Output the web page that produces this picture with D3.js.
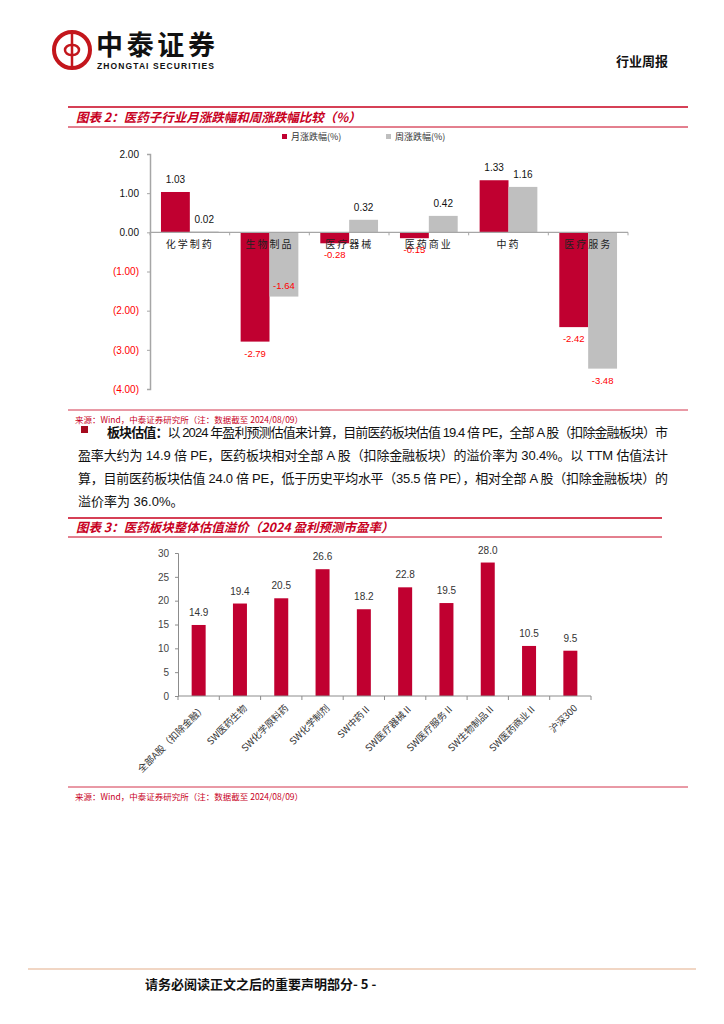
<!DOCTYPE html>
<html>
<head>
<meta charset="utf-8">
<script src="https://cdn.jsdelivr.net/npm/d3@7"></script>
<style>
  body { margin: 0; background: #fff; }
  text { font-family: "Liberation Sans", "Noto Sans CJK SC", sans-serif; }
  .cjk { font-family: "Noto Sans CJK SC", sans-serif; }
</style>
</head>
<body>
<div id="page"></div>
<script>
// chart 2: monthly / weekly change by sub-industry
var industries = ["化学制药", "生物制品", "医疗器械", "医药商业", "中药", "医疗服务"];
var seriesNames = ["月涨跌幅(%)", "周涨跌幅(%)"];
var monthChg = [1.03, -2.79, -0.28, -0.15, 1.33, -2.42];
var weekChg = [0.02, -1.64, 0.32, 0.42, 1.16, -3.48];
var yTicks1 = [2, 1, 0, -1, -2, -3, -4];

// chart 3: valuation (2024 PE)
var sectors = ["全部A股（扣除金融）", "SW医药生物", "SW化学原料药", "SW化学制剂", "SW中药Ⅱ",
  "SW医疗器械Ⅱ", "SW医疗服务Ⅱ", "SW生物制品Ⅱ", "SW医药商业Ⅱ", "沪深300"];
var peValues = [14.9, 19.4, 20.5, 26.6, 18.2, 22.8, 19.5, 28.0, 10.5, 9.5];
var yTicks3 = [0, 5, 10, 15, 20, 25, 30];

var RED = "#c00030";
var GRAY = "#bfbfbf";
var TITLE_RED = "#c8001e";

var svg = d3.select("#page").append("svg")
  .attr("width", 724)
  .attr("height", 1024);

// ---------- header ----------
var logo = svg.append("g").attr("transform", "translate(72,50)");
logo.append("circle").attr("r", 18).attr("fill", "none").attr("stroke", "#c3161c").attr("stroke-width", 4);
logo.append("line").attr("x1", 0).attr("x2", 0).attr("y1", -18).attr("y2", 18)
  .attr("stroke", "#c3161c").attr("stroke-width", 2.5);
logo.append("path").attr("d", "M -1,-5 A 6 5 0 1 0 -1,5").attr("fill", "none")
  .attr("stroke", "#c3161c").attr("stroke-width", 2.5);
logo.append("path").attr("d", "M 1,-5 A 6 5 0 1 1 1,5").attr("fill", "none")
  .attr("stroke", "#c3161c").attr("stroke-width", 2.5);

svg.append("text").attr("class", "cjk").attr("x", 96).attr("y", 55)
  .attr("font-size", 27).attr("font-weight", "bold").attr("fill", "#111")
  .attr("textLength", 119).text("中泰证券");
svg.append("text").attr("x", 97).attr("y", 69)
  .attr("font-size", 8.5).attr("font-weight", "bold").attr("fill", "#111")
  .attr("textLength", 117).text("ZHONGTAI SECURITIES");
svg.append("text").attr("class", "cjk").attr("x", 668).attr("y", 66)
  .attr("text-anchor", "end").attr("font-size", 13).attr("font-weight", "bold")
  .attr("fill", "#111").text("行业周报");

// ---------- chart 2 ----------
function titleBlock(yTop, yBot, xEnd, label) {
  svg.append("line").attr("x1", 68).attr("x2", xEnd).attr("y1", yTop).attr("y2", yTop)
    .attr("stroke", TITLE_RED).attr("stroke-width", 1.3);
  svg.append("line").attr("x1", 68).attr("x2", xEnd).attr("y1", yBot).attr("y2", yBot)
    .attr("stroke", TITLE_RED).attr("stroke-width", 1);
  svg.append("text").attr("class", "cjk").attr("x", 76).attr("y", (yTop + yBot) / 2 + 4.5)
    .attr("font-size", 12.5).attr("font-weight", "bold").attr("font-style", "italic")
    .attr("fill", TITLE_RED).text(label);
}
function sourceBlock(y, xEnd) {
  svg.append("line").attr("x1", 68).attr("x2", xEnd).attr("y1", y).attr("y2", y)
    .attr("stroke", TITLE_RED).attr("stroke-width", 0.8);
  svg.append("text").attr("class", "cjk").attr("x", 75).attr("y", y + 13)
    .attr("font-size", 8.5).attr("fill", TITLE_RED)
    .text("来源：Wind，中泰证券研究所（注：数据截至 2024/08/09）");
}

titleBlock(107, 127, 688, "图表 2：医药子行业月涨跌幅和周涨跌幅比较（%）");

var x0 = d3.scaleBand().domain(industries).range([150, 628]);
var x1 = d3.scaleBand().domain(seriesNames).range([0, x0.bandwidth()]).paddingOuter(0.38);
var y1 = d3.scaleLinear().domain([-4, 2]).range([389, 154]);

var rows = industries.map(function(d, i) {
  return { name: d, values: [
    { key: seriesNames[0], v: monthChg[i], color: RED },
    { key: seriesNames[1], v: weekChg[i], color: GRAY }
  ]};
});

var c1 = svg.append("g");

var grp = c1.selectAll("g.cat").data(rows).enter().append("g")
  .attr("class", "cat")
  .attr("transform", d => `translate(${x0(d.name)},0)`);

grp.selectAll("rect").data(d => d.values).enter().append("rect")
  .attr("x", d => x1(d.key))
  .attr("width", x1.bandwidth())
  .attr("y", d => y1(Math.max(0, d.v)))
  .attr("height", d => Math.abs(y1(d.v) - y1(0)))
  .attr("fill", d => d.color);

// zero line and category ticks
c1.append("line").attr("x1", 150).attr("x2", 628).attr("y1", y1(0)).attr("y2", y1(0))
  .attr("stroke", "#a6a6a6").attr("stroke-width", 1.2);
c1.selectAll("line.ct").data(d3.range(industries.length + 1)).enter().append("line")
  .attr("class", "ct")
  .attr("x1", i => 150 + i * x0.step()).attr("x2", i => 150 + i * x0.step())
  .attr("y1", y1(0)).attr("y2", y1(0) + 3)
  .attr("stroke", "#a6a6a6");
c1.selectAll("text.cat").data(industries).enter().append("text")
  .attr("class", "cjk")
  .attr("x", d => x0(d) + x0.bandwidth() / 2)
  .attr("y", y1(0) + 16)
  .attr("text-anchor", "middle")
  .attr("font-size", 10)
  .attr("letter-spacing", 2)
  .attr("fill", "#222")
  .text(d => d);

// value labels
grp.selectAll("text.val").data(d => d.values).enter().append("text")
  .attr("class", "val")
  .attr("x", d => x1(d.key) + x1.bandwidth() / 2)
  .attr("y", function(d) {
    if (d.v >= 0) return y1(d.v) - 9;
    if (d.v === -1.64) return y1(d.v) - 8;   // sits inside the bar in the original
    return y1(d.v) + 15;
  })
  .attr("text-anchor", "middle")
  .attr("font-size", d => d.v >= 0 ? 10 : 9.5)
  .attr("fill", d => d.v >= 0 ? "#111" : "#ff0000")
  .text(d => d.v.toFixed(2));

// y axis
var yAxis1 = d3.axisLeft(y1).tickValues(yTicks1).tickSize(3).tickPadding(8)
  .tickFormat(d => d < 0 ? "(" + Math.abs(d).toFixed(2) + ")" : d.toFixed(2));
var ya = c1.append("g").attr("transform", "translate(150,0)").call(yAxis1);
ya.select(".domain").attr("stroke", "#a6a6a6").attr("stroke-width", 1.5);
ya.selectAll(".tick line").attr("stroke", "#a6a6a6");
ya.selectAll(".tick text").attr("font-size", 10)
  .attr("font-family", "Liberation Sans")
  .attr("fill", d => d < 0 ? "#ff0000" : "#111");

// legend
var lg = c1.selectAll("g.lg").data(seriesNames).enter().append("g")
  .attr("class", "lg")
  .attr("transform", (d, i) => `translate(${282 + i * 104},133)`);
lg.append("rect").attr("width", 5).attr("height", 5).attr("y", 1)
  .attr("fill", (d, i) => i === 0 ? RED : GRAY);
lg.append("text").attr("class", "cjk").attr("x", 9).attr("y", 7)
  .attr("font-size", 9).attr("fill", "#333").text(d => d);

sourceBlock(410, 688);

// ---------- paragraph ----------
svg.append("rect").attr("x", 81).attr("y", 426).attr("width", 7).attr("height", 7).attr("fill", "#a50a1e");
var para = [
  { x: 107, len: 561, parts: [["板块估值：", "bold"], ["以 2024 年盈利预测估值来计算，目前医药板块估值 19.4 倍 PE，全部 A 股（扣除金融板块）市", "normal"]] },
  { x: 78, len: 590, parts: [["盈率大约为 14.9 倍 PE，医药板块相对全部 A 股（扣除金融板块）的溢价率为 30.4%。以 TTM 估值法计", "normal"]] },
  { x: 78, len: 590, parts: [["算，目前医药板块估值 24.0 倍 PE，低于历史平均水平（35.5 倍 PE），相对全部 A 股（扣除金融板块）的", "normal"]] },
  { x: 78, len: 0, parts: [["溢价率为 36.0%。", "normal"]] }
];
para.forEach(function(p, i) {
  var t = svg.append("text").attr("x", p.x).attr("y", 437 + i * 23)
    .attr("font-size", 13).attr("fill", "#111");
  if (p.len) t.attr("textLength", p.len).attr("lengthAdjust", "spacing");
  p.parts.forEach(function(s) {
    t.append("tspan").attr("font-weight", s[1]).text(s[0]);
  });
});

// ---------- chart 3 ----------
titleBlock(518, 537, 662, "图表 3：医药板块整体估值溢价（2024 盈利预测市盈率）");

var x3 = d3.scaleBand().domain(sectors).range([178, 591]);
var y3 = d3.scaleLinear().domain([0, 30]).range([696, 553]);
var c3 = svg.append("g");

c3.selectAll("rect").data(peValues).enter().append("rect")
  .attr("x", (d, i) => x3(sectors[i]) + x3.bandwidth() / 2 - 7)
  .attr("width", 14)
  .attr("y", d => y3(d))
  .attr("height", d => y3(0) - y3(d))
  .attr("fill", RED);

c3.selectAll("text.val").data(peValues).enter().append("text")
  .attr("class", "val")
  .attr("x", (d, i) => x3(sectors[i]) + x3.bandwidth() / 2)
  .attr("y", d => y3(d) - 9)
  .attr("text-anchor", "middle")
  .attr("font-size", 10)
  .attr("fill", "#333")
  .text(d => d.toFixed(1));

var yAxis3 = d3.axisLeft(y3).tickValues(yTicks3).tickSize(3).tickPadding(6);
var ya3 = c3.append("g").attr("transform", "translate(178,0)").call(yAxis3);
ya3.select(".domain").attr("stroke", "#8c8c8c");
ya3.selectAll(".tick line").attr("stroke", "#8c8c8c");
ya3.selectAll(".tick text").attr("font-size", 10).attr("font-family", "Liberation Sans").attr("fill", "#444");

c3.append("line").attr("x1", 178).attr("x2", 591).attr("y1", y3(0)).attr("y2", y3(0))
  .attr("stroke", "#8c8c8c");
c3.selectAll("line.ct").data(d3.range(sectors.length + 1)).enter().append("line")
  .attr("class", "ct")
  .attr("x1", i => 178 + i * x3.step()).attr("x2", i => 178 + i * x3.step())
  .attr("y1", y3(0)).attr("y2", y3(0) + 4)
  .attr("stroke", "#8c8c8c");
c3.selectAll("text.cat").data(sectors).enter().append("text")
  .attr("class", "cjk")
  .attr("transform", d => `translate(${x3(d) + x3.bandwidth() / 2 + 3},${y3(0) + 8}) rotate(-45)`)
  .attr("text-anchor", "end")
  .attr("dy", "0.7em")
  .attr("font-size", 9.5)
  .attr("fill", "#333")
  .text(d => d);

sourceBlock(787, 688);

// ---------- footer ----------
svg.append("line").attr("x1", 28).attr("x2", 696).attr("y1", 969).attr("y2", 969)
  .attr("stroke", "#ecc9b0").attr("stroke-width", 1.5);
svg.append("text").attr("class", "cjk").attr("x", 145).attr("y", 989)
  .attr("font-size", 13).attr("font-weight", "bold").attr("fill", "#111")
  .text("请务必阅读正文之后的重要声明部分- 5 -");
</script>
</body>
</html>
